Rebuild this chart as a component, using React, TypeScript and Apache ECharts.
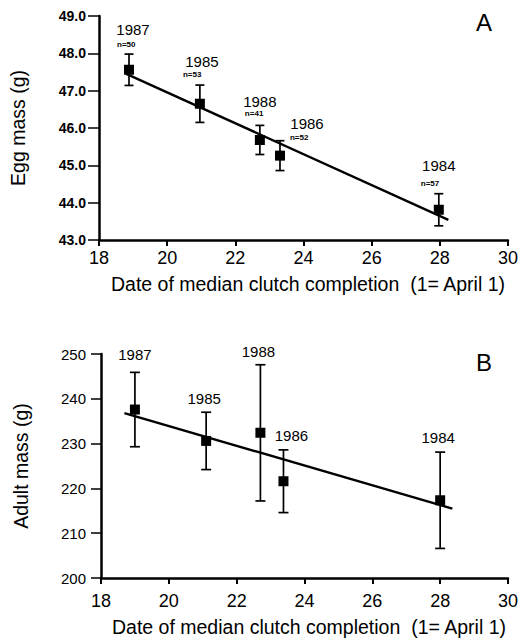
import React, { useEffect, useRef } from "react";
import * as echarts from "echarts";

// Date of median clutch completion (1 = April 1)
const years = ["1987", "1985", "1988", "1986", "1984"];
const nLabels = ["n=50", "n=53", "n=41", "n=52", "n=57"];
const datesA = [18.88, 20.96, 22.72, 23.31, 27.97];
const datesB = [19.0, 21.1, 22.7, 23.38, 28.0];
// Panel A: egg mass (g), mean and error
const eggMass = [47.56, 46.65, 45.68, 45.26, 43.81];
const eggErr = [0.42, 0.5, 0.39, 0.4, 0.43];
// Panel B: adult mass (g), mean and error
const adultMass = [237.6, 230.6, 232.4, 221.6, 217.35];
const adultErr = [8.3, 6.4, 15.2, 7.0, 10.75];
// Regression line end points
const regA = [
  [18.8, 47.45],
  [28.25, 43.54],
];
const regB = [
  [18.69, 236.8],
  [28.36, 215.5],
];
const xTicks = { min: 18, max: 30, interval: 2 };
const yTicksA = { min: 43, max: 49, interval: 1 };
const yTicksB = { min: 200, max: 250, interval: 10 };

// label layout (pixel offsets from the top of each error bar)
const yearOffA = [
  [4, -25],
  [2, -24],
  [0, -24],
  [27, -17],
  [0, -28],
];
const nOffA = [
  [-12, -10],
  [-17, -11],
  [-15, -12],
  [10, -3],
  [-18, -10],
];
const yearOffB = [
  [0, -18],
  [-2, -14],
  [-2, -13],
  [8, -14],
  [-2, -15],
];

const FONT = "'Liberation Sans', Arial, Helvetica, sans-serif";

function makeRender(yearOff: number[][], nOff: number[][] | null, yearSize: number, capW: number, box: number) {
  return (params: any, api: any) => {
    const i = params.dataIndex;
    const x = api.value(0);
    const y = api.value(1);
    const e = api.value(2);
    const p = api.coord([x, y]);
    const hi = api.coord([x, y + e]);
    const lo = api.coord([x, y - e]);
    const children: any[] = [
      { type: "line", shape: { x1: p[0], y1: hi[1], x2: p[0], y2: lo[1] }, style: { stroke: "#000", lineWidth: 1.7 } },
      { type: "line", shape: { x1: p[0] - capW / 2, y1: hi[1], x2: p[0] + capW / 2, y2: hi[1] }, style: { stroke: "#000", lineWidth: 1.7 } },
      { type: "line", shape: { x1: p[0] - capW / 2, y1: lo[1], x2: p[0] + capW / 2, y2: lo[1] }, style: { stroke: "#000", lineWidth: 1.7 } },
      { type: "rect", shape: { x: p[0] - box / 2, y: p[1] - box / 2, width: box, height: box }, style: { fill: "#000" } },
      {
        type: "text",
        x: p[0] + yearOff[i][0],
        y: hi[1] + yearOff[i][1],
        style: { text: years[i], fill: "#000", font: `${yearSize}px ${FONT}`, textAlign: "center", textVerticalAlign: "middle" },
      },
    ];
    if (nOff) {
      children.push({
        type: "text",
        x: p[0] + nOff[i][0],
        y: hi[1] + nOff[i][1],
        style: { text: nLabels[i], fill: "#000", font: `bold 8px ${FONT}`, textAlign: "left", textVerticalAlign: "middle" },
      });
    }
    return { type: "group", children };
  };
}

export default function App() {
  const ref = useRef<HTMLDivElement>(null);
  useEffect(() => {
    if (!ref.current) return;
    const chart = echarts.init(ref.current, null, { renderer: "svg" });
    const axisLine = { lineStyle: { color: "#000", width: 2.5 } };
    const titleText = "Date of median clutch completion  (1= April 1)";
    chart.setOption({
      animation: false,
      backgroundColor: "#fff",
      textStyle: { fontFamily: FONT, color: "#000" },
      grid: [
        { left: 99, top: 16, width: 409, height: 224 },
        { left: 101, top: 354, width: 407, height: 224 },
      ],
      xAxis: [0, 1].map((g) => ({
        type: "value",
        gridIndex: g,
        min: xTicks.min,
        max: xTicks.max,
        interval: xTicks.interval,
        splitLine: { show: false },
        axisLine,
        axisTick: { show: true, length: 6, lineStyle: { color: "#000", width: 2 } },
        axisLabel: { color: "#000", fontSize: 18, margin: g === 0 ? 9 : 14, fontFamily: FONT },
        name: titleText,
        nameLocation: "middle",
        nameGap: g === 0 ? 34 : 39,
        nameTextStyle: { color: "#000", fontSize: 19.5, fontFamily: FONT, padding: [0, 0, 0, 9] },
      })),
      yAxis: [
        {
          type: "value",
          gridIndex: 0,
          min: yTicksA.min,
          max: yTicksA.max,
          interval: yTicksA.interval,
          splitLine: { show: false },
          axisLine,
          axisTick: { show: true, length: 11, lineStyle: { color: "#000", width: 1.5 } },
          axisLabel: { color: "#000", fontSize: 14, fontWeight: "bold", margin: 13, fontFamily: FONT, formatter: (v: number) => v.toFixed(1) },
          name: "Egg mass (g)",
          nameLocation: "middle",
          nameGap: 71,
          nameTextStyle: { color: "#000", fontSize: 19.5, fontFamily: FONT },
        },
        {
          type: "value",
          gridIndex: 1,
          min: yTicksB.min,
          max: yTicksB.max,
          interval: yTicksB.interval,
          splitLine: { show: false },
          axisLine,
          axisTick: { show: true, length: 10, lineStyle: { color: "#000", width: 1.5 } },
          axisLabel: { color: "#000", fontSize: 15, margin: 15, fontFamily: FONT },
          name: "Adult mass (g)",
          nameLocation: "middle",
          nameGap: 70,
          nameTextStyle: { color: "#000", fontSize: 19.5, fontFamily: FONT },
        },
      ],
      series: [
        {
          type: "line",
          xAxisIndex: 0,
          yAxisIndex: 0,
          data: regA,
          symbol: "none",
          lineStyle: { color: "#000", width: 2.4 },
          z: 2,
        },
        {
          type: "line",
          xAxisIndex: 1,
          yAxisIndex: 1,
          data: regB,
          symbol: "none",
          lineStyle: { color: "#000", width: 2.4 },
          z: 2,
        },
        {
          type: "custom",
          xAxisIndex: 0,
          yAxisIndex: 0,
          data: datesA.map((d, i) => [d, eggMass[i], eggErr[i]]),
          renderItem: makeRender(yearOffA, nOffA, 15, 9, 10),
          z: 3,
        },
        {
          type: "custom",
          xAxisIndex: 1,
          yAxisIndex: 1,
          data: datesB.map((d, i) => [d, adultMass[i], adultErr[i]]),
          renderItem: makeRender(yearOffB, null, 15, 10, 10),
          z: 3,
        },
      ],
      graphic: [
        { type: "text", x: 484, y: 22, style: { text: "A", fill: "#000", font: `24px ${FONT}`, textAlign: "center", textVerticalAlign: "middle" } },
        { type: "text", x: 484, y: 362, style: { text: "B", fill: "#000", font: `24px ${FONT}`, textAlign: "center", textVerticalAlign: "middle" } },
      ],
    });
    return () => chart.dispose();
  }, []);
  return <div ref={ref} style={{ position: "absolute", left: 0, top: 0, width: 521, height: 642 }} />;
}
